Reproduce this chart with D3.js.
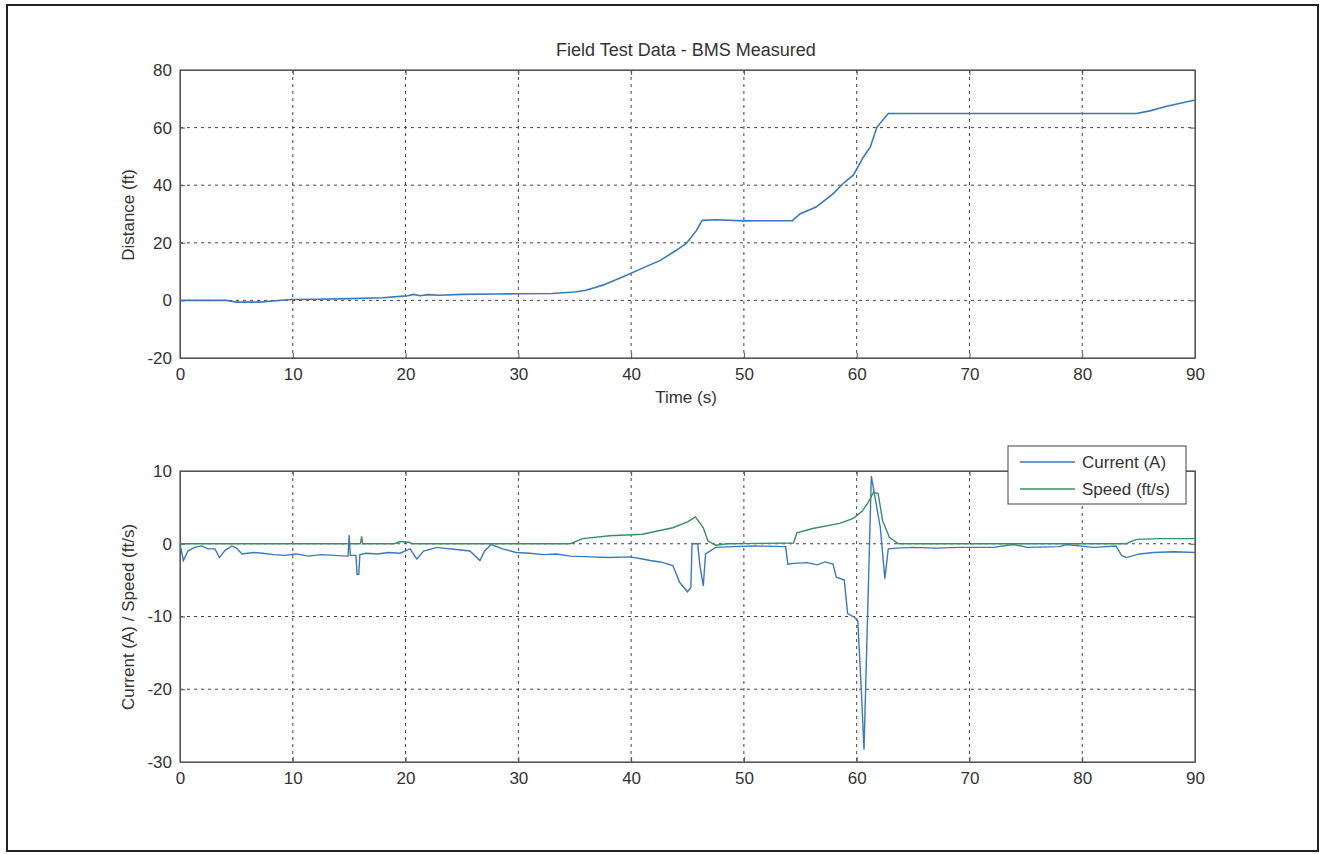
<!DOCTYPE html>
<html>
<head>
<meta charset="utf-8">
<script src="https://cdn.jsdelivr.net/npm/d3@7"></script>
<style>
  body { margin: 0; background: #ffffff; }
  svg { display: block; }
  text { font-family: "Liberation Sans", Arial, sans-serif; fill: #333; }
</style>
</head>
<body>
<svg width="1323" height="854"></svg>
<script>
// distance plot (top)
const distTime = [0, 2, 4.1, 5, 7, 9.9, 12, 15, 18, 19.5, 20.2, 20.7, 21.3, 22, 23, 25, 28, 30, 33, 35, 36, 37.5, 39.6, 41, 42.6, 44, 44.9, 45.8, 46.3, 47.5, 50, 54.3, 55, 56.4, 57.9, 58.8, 59.7, 60.6, 61.2, 61.8, 62.8, 66, 70, 75, 80, 84.8, 86, 87.5, 89, 90];
const distance = [0, 0, 0, -0.6, -0.6, 0.3, 0.4, 0.6, 0.9, 1.4, 1.6, 2.1, 1.6, 2.0, 1.8, 2.1, 2.2, 2.3, 2.4, 2.9, 3.5, 5.3, 8.7, 11.2, 13.9, 17.4, 19.8, 24.3, 27.8, 28.0, 27.6, 27.7, 30.1, 32.4, 37.0, 40.6, 43.5, 49.8, 53.2, 60.2, 64.9, 64.9, 64.9, 64.9, 64.9, 64.9, 65.8, 67.4, 68.7, 69.6];

// current / speed plot (bottom)
const currentTime = [0, 0.3, 0.7, 1.3, 1.9, 2.5, 3.1, 3.5, 4.0, 4.6, 5.0, 5.5, 6.5, 7.3, 8.3, 9.3, 10.3, 11.4, 12.5, 13.7, 14.9, 15.0, 15.1, 15.6, 15.7, 15.85, 15.95, 16.5, 17.5, 18.5, 19.5, 20.4, 21.0, 21.6, 22.8, 23.3, 24.5, 25.7, 26.6, 27.0, 27.6, 28.6, 29.8, 31, 32.2, 33.4, 34.6, 36.4, 38.1, 39.9, 41.0, 41.7, 42.6, 43.7, 44.3, 45.0, 45.3, 45.4, 45.9, 46.1, 46.4, 46.6, 47.5, 49, 51, 53.7, 53.9, 54.4, 55.6, 56.5, 57.2, 57.9, 58.2, 58.9, 59.2, 59.8, 60.1, 60.4, 60.65, 61.3, 62.1, 62.5, 62.8, 63.5, 65, 67, 69.1, 72.1, 73.9, 75.1, 78, 78.6, 81, 83, 83.5, 83.9, 85.1, 86.3, 88.1, 90];
const current = [0, -2.3, -1.0, -0.5, -0.3, -0.7, -0.7, -1.9, -0.9, -0.3, -0.6, -1.4, -1.2, -1.3, -1.5, -1.6, -1.4, -1.7, -1.5, -1.6, -1.7, 1.2, -1.6, -1.6, -4.2, -4.2, -1.5, -1.3, -1.4, -1.2, -1.3, -0.7, -2.1, -1.0, -0.5, -0.6, -0.8, -1.0, -2.3, -1.0, -0.1, -0.7, -1.2, -1.3, -1.5, -1.4, -1.7, -1.8, -1.9, -1.8, -2.1, -2.3, -2.5, -3.0, -5.3, -6.6, -6.0, 0, 0, -3.0, -5.8, -1.4, -0.5, -0.4, -0.3, -0.4, -2.8, -2.7, -2.6, -2.9, -2.5, -2.8, -4.6, -5.0, -9.6, -10.1, -10.6, -19.7, -28.3, 9.3, 2.2, -4.8, -0.7, -0.6, -0.5, -0.6, -0.5, -0.5, -0.1, -0.5, -0.4, -0.1, -0.5, -0.3, -1.65, -1.9, -1.4, -1.2, -1.1, -1.2];

const speedTime = [0, 15, 16.0, 16.1, 16.2, 19, 19.5, 20.3, 20.6, 34.6, 35.7, 38.1, 41, 43.7, 45.0, 45.7, 46.4, 46.8, 47.5, 48.5, 54.4, 54.7, 56.1, 58.5, 59.7, 60.5, 61, 61.5, 61.9, 62.3, 62.9, 63.7, 83.9, 84.8, 86.9, 90];
const speed = [0, 0, 0, 1.0, 0, 0, 0.3, 0.2, 0, 0, 0.7, 1.1, 1.3, 2.2, 3.0, 3.7, 2.2, 0.4, -0.2, 0, 0.1, 1.5, 2.1, 2.8, 3.5, 4.5, 5.6, 7.1, 6.9, 3.2, 0.9, 0, 0, 0.6, 0.7, 0.7];

const xTicks = [0, 10, 20, 30, 40, 50, 60, 70, 80, 90];
const distTicks = [-20, 0, 20, 40, 60, 80];
const curTicks = [-30, -20, -10, 0, 10];

const seriesNames = ["Current (A)", "Speed (ft/s)"];
const blue = "#3c78bd";
const green = "#3a8f5d";

let svg = d3.select('svg');

// outer frame of the scanned page
svg.append('rect')
    .attr('x', 7).attr('y', 5)
    .attr('width', 1311).attr('height', 846)
    .attr('fill', 'none')
    .attr('stroke', '#222')
    .attr('stroke-width', 2);

function drawPanel(top, bottom, yDomain, yTicks) {
    let x = d3.scaleLinear().domain([0, 90]).range([180, 1195]);
    let y = d3.scaleLinear().domain(yDomain).range([bottom, top]);
    let g = svg.append('g');

    // dotted grid
    g.selectAll('.vgrid')
        .data(xTicks.slice(1, -1))
        .enter().append('line')
        .attr('x1', d => x(d)).attr('x2', d => x(d))
        .attr('y1', top).attr('y2', bottom)
        .attr('stroke', '#444').attr('stroke-width', 1)
        .attr('stroke-dasharray', '3,4');
    g.selectAll('.hgrid')
        .data(yTicks.slice(1, -1))
        .enter().append('line')
        .attr('x1', 180).attr('x2', 1195)
        .attr('y1', d => y(d)).attr('y2', d => y(d))
        .attr('stroke', '#444').attr('stroke-width', 1)
        .attr('stroke-dasharray', '3,4');

    // axes, ticks pointing inward like matlab, plain hyphen for negatives
    let fmt = d => String(d);
    g.append('g')
        .attr('transform', `translate(0, ${bottom})`)
        .call(d3.axisBottom(x).tickValues(xTicks).tickFormat(fmt).tickSizeInner(-5).tickSizeOuter(0).tickPadding(10));
    g.append('g')
        .attr('transform', `translate(180, 0)`)
        .call(d3.axisLeft(y).tickValues(yTicks).tickFormat(fmt).tickSizeInner(-5).tickSizeOuter(0).tickPadding(8));
    g.append('g')
        .attr('transform', `translate(0, ${top})`)
        .call(d3.axisTop(x).tickValues(xTicks).tickSizeInner(-5).tickSizeOuter(0).tickFormat(''));
    g.append('g')
        .attr('transform', `translate(1195, 0)`)
        .call(d3.axisRight(y).tickValues(yTicks).tickSizeInner(-5).tickSizeOuter(0).tickFormat(''));

    g.selectAll('.domain').attr('stroke', '#555');
    g.selectAll('.tick line').attr('stroke', '#555');
    g.selectAll('.tick text')
        .style('font-size', '17px')
        .style('font-family', '"Liberation Sans", Arial, sans-serif')
        .attr('fill', '#333');

    g.append('rect')
        .attr('x', 180).attr('y', top)
        .attr('width', 1015).attr('height', bottom - top)
        .attr('fill', 'none').attr('stroke', '#555').attr('stroke-width', 1.2);

    return { x: x, y: y, g: g };
}

// top panel
let p1 = drawPanel(70, 358, [-20, 80], distTicks);
let lineTop = d3.line()
    .x((d, i) => p1.x(distTime[i]))
    .y(d => p1.y(d));
p1.g.append('path')
    .datum(distance)
    .attr('d', lineTop)
    .attr('fill', 'none')
    .attr('stroke', blue)
    .attr('stroke-width', 1.6);

svg.append('text')
    .attr('x', 686).attr('y', 56)
    .attr('text-anchor', 'middle')
    .style('font-size', '18px')
    .text('Field Test Data - BMS Measured');

svg.append('text')
    .attr('x', 686).attr('y', 403)
    .attr('text-anchor', 'middle')
    .style('font-size', '17px')
    .text('Time (s)');

svg.append('text')
    .attr('transform', 'translate(134, 215) rotate(-90)')
    .attr('text-anchor', 'middle')
    .style('font-size', '17px')
    .text('Distance (ft)');

// bottom panel
let p2 = drawPanel(471, 762, [-30, 10], curTicks);
let lineCur = d3.line()
    .x((d, i) => p2.x(currentTime[i]))
    .y(d => p2.y(d));
let lineSpd = d3.line()
    .x((d, i) => p2.x(speedTime[i]))
    .y(d => p2.y(d));

p2.g.append('path')
    .datum(current)
    .attr('d', lineCur)
    .attr('fill', 'none')
    .attr('stroke', blue)
    .attr('stroke-width', 1.4);
p2.g.append('path')
    .datum(speed)
    .attr('d', lineSpd)
    .attr('fill', 'none')
    .attr('stroke', green)
    .attr('stroke-width', 1.4);

svg.append('text')
    .attr('transform', 'translate(134, 617) rotate(-90)')
    .attr('text-anchor', 'middle')
    .style('font-size', '17px')
    .text('Current (A) / Speed (ft/s)');

// legend
let legend = svg.append('g');
legend.append('rect')
    .attr('x', 1008).attr('y', 446)
    .attr('width', 178).attr('height', 58)
    .attr('fill', '#fff')
    .attr('stroke', '#444').attr('stroke-width', 1);
legend.selectAll('.entry')
    .data(seriesNames)
    .enter().append('line')
    .attr('x1', 1020).attr('x2', 1075)
    .attr('y1', (d, i) => 462 + i * 27)
    .attr('y2', (d, i) => 462 + i * 27)
    .attr('stroke', (d, i) => i === 0 ? blue : green)
    .attr('stroke-width', 1.4);
legend.selectAll('.label')
    .data(seriesNames)
    .enter().append('text')
    .attr('x', 1082)
    .attr('y', (d, i) => 468 + i * 27)
    .style('font-size', '17px')
    .text(d => d);
</script>
</body>
</html>
